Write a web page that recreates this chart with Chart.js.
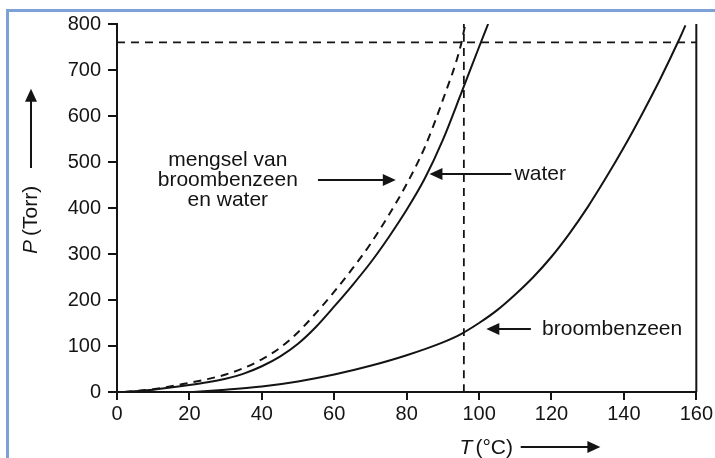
<!DOCTYPE html>
<html>
<head>
<meta charset="utf-8">
<script src="https://cdn.jsdelivr.net/npm/chart.js@4.4.1/dist/chart.umd.min.js"></script>
<style>
  html, body { margin: 0; padding: 0; background: #fff; }
  #wrap { position: relative; width: 715px; height: 458px; }
</style>
</head>
<body>
<div id="wrap"><canvas id="dampChart"></canvas></div>
<script>
// dampdruk (Torr) tegen temperatuur (°C)
const waterT = [2, 10, 20, 25, 30, 35, 40, 45, 50, 55, 60, 65, 70, 75, 80, 85, 90, 95, 100, 102.5];
const waterP = [0, 5, 15, 21, 29, 40, 56, 77, 105, 142, 186, 232, 281, 336, 396, 464, 548, 648, 750, 800];

const mengselT = [2, 10, 20, 25, 30, 35, 40, 45, 50, 55, 60, 65, 70, 75, 80, 85, 90, 95, 96.2];
const mengselP = [0, 6, 20, 28, 38, 52, 71, 96, 130, 172, 218, 268, 322, 384, 452, 532, 635, 755, 800];

const broomT = [21, 30, 40, 50, 60, 70, 80, 90, 95, 100, 105, 110, 115, 120, 125, 130, 135, 140, 145, 150, 155, 157];
const broomP = [0, 5, 12, 23, 38, 57, 80, 108, 126, 150, 178, 212, 250, 294, 345, 402, 465, 532, 604, 680, 762, 797];

// stippellijnen: 760 Torr en het kookpunt van het mengsel
const drukLijnT = [0, 160];
const drukLijnP = [760, 760];
const kookLijnT = [95.8, 95.8];
const kookLijnP = [0, 800];

const xTicks = [0, 20, 40, 60, 80, 100, 120, 140, 160];
const yTicks = [0, 100, 200, 300, 400, 500, 600, 700, 800];

// teksten en pijlen in de figuur (plaats in T / P)
const teksten = [
  { tekst: 'mengsel van', t: 30.6, p: 504, align: 'center' },
  { tekst: 'broombenzeen', t: 30.6, p: 461, align: 'center' },
  { tekst: 'en water', t: 30.6, p: 418, align: 'center' },
  { tekst: 'water', t: 109.8, p: 474, align: 'left' },
  { tekst: 'broombenzeen', t: 117.4, p: 137, align: 'left' }
];
const pijlen = [
  { van: 55.5, naar: 77.0, p: 461 },
  { van: 108.9, naar: 86.3, p: 474 },
  { van: 114.3, naar: 102.0, p: 137 }
];

const INK = '#141414';
const FONT = '"Liberation Sans", Arial, Helvetica, sans-serif';

function punten(ts, ps) {
  return ts.map((t, i) => ({ x: t, y: ps[i] }));
}

function pijlKop(ctx, x, y, richting, hoek) {
  // richting: 1 = rechts, -1 = links; hoek 'up' = omhoog
  ctx.beginPath();
  if (hoek === 'up') {
    ctx.moveTo(x, y);
    ctx.lineTo(x - 6, y + 13);
    ctx.lineTo(x + 6, y + 13);
  } else {
    ctx.moveTo(x, y);
    ctx.lineTo(x - richting * 13, y - 6);
    ctx.lineTo(x - richting * 13, y + 6);
  }
  ctx.closePath();
  ctx.fill();
}

const figuurPlugin = {
  id: 'figuur',
  beforeDraw(chart) {
    const ctx = chart.ctx;
    ctx.save();
    ctx.fillStyle = '#fff';
    ctx.fillRect(0, 0, chart.width, chart.height);
    // blauwe kader
    ctx.strokeStyle = 'rgb(125,160,214)';
    ctx.lineWidth = 3;
    ctx.beginPath();
    ctx.moveTo(7.5, chart.height);
    ctx.lineTo(7.5, 10.5);
    ctx.lineTo(chart.width, 10.5);
    ctx.stroke();
    ctx.restore();
  },
  afterDraw(chart) {
    const ctx = chart.ctx;
    const xs = chart.scales.x;
    const ys = chart.scales.y;
    const area = chart.chartArea;
    ctx.save();
    ctx.strokeStyle = INK;
    ctx.fillStyle = INK;

    // rechter lijn bij 160 °C
    ctx.lineWidth = 2;
    ctx.beginPath();
    ctx.moveTo(area.right, area.bottom);
    ctx.lineTo(area.right, area.top);
    ctx.stroke();

    // teksten
    ctx.font = '21px ' + FONT;
    ctx.textBaseline = 'middle';
    teksten.forEach(l => {
      ctx.textAlign = l.align;
      ctx.fillText(l.tekst, xs.getPixelForValue(l.t), ys.getPixelForValue(l.p));
    });

    // pijlen
    ctx.lineWidth = 2;
    pijlen.forEach(a => {
      const x1 = xs.getPixelForValue(a.van);
      const x2 = xs.getPixelForValue(a.naar);
      const y = ys.getPixelForValue(a.p);
      const r = x2 > x1 ? 1 : -1;
      ctx.beginPath();
      ctx.moveTo(x1, y);
      ctx.lineTo(x2 - r * 10, y);
      ctx.stroke();
      pijlKop(ctx, x2, y, r);
    });

    // x-as titel: T (°C) met pijl
    const ty = area.bottom + 56;
    const tx = xs.getPixelForValue(102);
    ctx.textAlign = 'left';
    ctx.font = 'italic 21px ' + FONT;
    const wT = ctx.measureText('T').width;
    ctx.font = '21px ' + FONT;
    const wRest = ctx.measureText('(°C)').width;
    let sx = tx - (wT + 3 + wRest) / 2;
    ctx.font = 'italic 21px ' + FONT;
    ctx.fillText('T', sx, ty);
    ctx.font = '21px ' + FONT;
    ctx.fillText('(°C)', sx + wT + 3, ty);
    const ax1 = xs.getPixelForValue(111.5);
    const ax2 = xs.getPixelForValue(133.5);
    ctx.beginPath();
    ctx.moveTo(ax1, ty - 1);
    ctx.lineTo(ax2 - 10, ty - 1);
    ctx.stroke();
    pijlKop(ctx, ax2, ty - 1, 1);

    // y-as titel: P (Torr) met pijl
    const px = 31;
    const pyMid = ys.getPixelForValue(374);
    ctx.save();
    ctx.translate(px, pyMid);
    ctx.rotate(-Math.PI / 2);
    ctx.font = 'italic 21px ' + FONT;
    const wP = ctx.measureText('P').width;
    ctx.font = '21px ' + FONT;
    const wTorr = ctx.measureText('(Torr)').width;
    sx = -(wP + 4 + wTorr) / 2;
    ctx.font = 'italic 21px ' + FONT;
    ctx.fillText('P', sx, 0);
    ctx.font = '21px ' + FONT;
    ctx.fillText('(Torr)', sx + wP + 4, 0);
    ctx.restore();
    const ay1 = ys.getPixelForValue(487);
    const ay2 = ys.getPixelForValue(659);
    ctx.beginPath();
    ctx.moveTo(px, ay1);
    ctx.lineTo(px, ay2 + 10);
    ctx.stroke();
    pijlKop(ctx, px, ay2, 0, 'up');

    ctx.restore();
  }
};

const lijnStijl = {
  showLine: true,
  pointRadius: 0,
  borderColor: INK,
  borderWidth: 2,
  cubicInterpolationMode: 'monotone',
  fill: false
};

const dampChart = new Chart(document.getElementById('dampChart'), {
  type: 'scatter',
  data: {
    datasets: [
      { ...lijnStijl, label: 'water', data: punten(waterT, waterP) },
      { ...lijnStijl, label: 'mengsel van broombenzeen en water', data: punten(mengselT, mengselP), borderDash: [8, 6] },
      { ...lijnStijl, label: 'broombenzeen', data: punten(broomT, broomP) },
      { ...lijnStijl, label: '760 Torr', data: punten(drukLijnT, drukLijnP), borderDash: [8, 6], borderWidth: 1.8 },
      { ...lijnStijl, label: 'kookpunt', data: punten(kookLijnT, kookLijnP), borderDash: [8, 6], borderWidth: 1.8 }
    ]
  },
  options: {
    responsive: true,
    maintainAspectRatio: false,
    animation: false,
    layout: { padding: { top: 24, right: 13, left: 0, bottom: 0 } },
    plugins: {
      legend: { display: false },
      tooltip: { enabled: false }
    },
    scales: {
      x: {
        type: 'linear',
        min: 0,
        max: 160,
        afterBuildTicks: s => { s.ticks = xTicks.map(v => ({ value: v })); },
        afterFit: s => { s.height = 66; },
        grid: { drawOnChartArea: false, drawTicks: true, tickLength: 8, color: INK, lineWidth: 2 },
        border: { display: true, color: INK, width: 2 },
        ticks: { color: INK, padding: 2, maxRotation: 0, font: { family: FONT, size: 20 } }
      },
      y: {
        type: 'linear',
        min: 0,
        max: 800,
        afterBuildTicks: s => { s.ticks = yTicks.map(v => ({ value: v })); },
        afterFit: s => { s.width = 117; },
        grid: { drawOnChartArea: false, drawTicks: true, tickLength: 9, color: INK, lineWidth: 2 },
        border: { display: true, color: INK, width: 2 },
        ticks: { color: INK, padding: 7, font: { family: FONT, size: 20 } }
      }
    }
  },
  plugins: [figuurPlugin]
});
</script>
</body>
</html>
